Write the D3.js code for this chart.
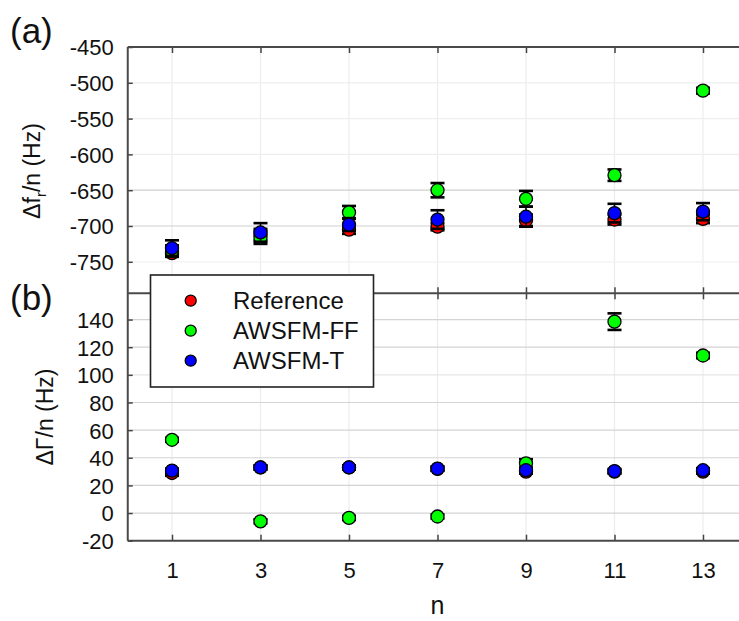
<!DOCTYPE html>
<html>
<head>
<meta charset="utf-8">
<script src="https://cdn.jsdelivr.net/npm/d3@7"></script>
<style>
  html, body { margin: 0; padding: 0; background: #fff; }
  svg { display: block; }
  text { font-family: "Liberation Sans", Arial, sans-serif; fill: #111; }
</style>
</head>
<body>
<svg id="chart" width="739" height="621"></svg>
<script>
// ---- data ----
const nValues = [1, 3, 5, 7, 9, 11, 13];
const seriesNames = ["Reference", "AWSFM-FF", "AWSFM-T"];

// panel (a): Δf_r/n (Hz)
const freqReference = [-738, -712, -705, -701, -692, -691, -690];
const freqReferenceErr = [5, 8, 6, 5, 8, 7, 6];
const freqFF = [-735, -716, -681, -650, -662, -629, -511];
const freqFFErr = [8, 9, 9, 10, 11, 8, 4];
const freqT = [-731, -709, -698, -691, -687, -682, -680];
const freqTErr = [11, 13, 9, 13, 14, 13, 12];

// panel (b): ΔΓ/n (Hz)
const gammaReference = [29, 33, 33, 32, 30, 30, 30];
const gammaReferenceErr = [2, 1.5, 1.5, 1.5, 1.5, 1.5, 1.5];
const gammaFF = [53, -6, -3.5, -2.5, 36, 138.5, 114];
const gammaFFErr = [1.5, 1.5, 1.5, 1.5, 3, 6, 2];
const gammaT = [30.7, 33, 33, 32.2, 31, 30.4, 31];
const gammaTErr = [1.5, 1.5, 1.5, 1.5, 1.5, 1.5, 1.5];

const xTicks = [1, 3, 5, 7, 9, 11, 13];
const yTicksTop = [-450, -500, -550, -600, -650, -700, -750];
const yTicksBottom = [-20, 0, 20, 40, 60, 80, 100, 120, 140];

// ---- layout ----
const svg = d3.select("#chart");
const W = 739;
const colors = ["#ff0000", "#00ff00", "#0000ff"];

const x = d3.scaleLinear().domain([0, 14]).range([127.75, 747.25]);
const yTop = d3.scaleLinear().domain([-450, -794]).range([47, 293.3]);
const yBot = d3.scaleLinear().domain([-20, 159]).range([540.7, 293.3]);

const left = x(0);
const panelTopY = yTop(-450), midY = yTop(-794), botY = yBot(-20);
const fmt = d => String(d);

// vertical grid lines
[[panelTopY, midY], [midY, botY]].forEach(([a, b]) => {
  svg.append("g").selectAll("line").data(xTicks).join("line")
    .attr("x1", d => x(d)).attr("x2", d => x(d))
    .attr("y1", a).attr("y2", b)
    .attr("stroke", "#ececec").attr("stroke-width", 1.2);
});

// horizontal grids
svg.append("g").selectAll("line").data(yTicksTop.filter(d => d !== -450)).join("line")
  .attr("x1", left).attr("x2", W)
  .attr("y1", d => yTop(d)).attr("y2", d => yTop(d))
  .attr("stroke", d => d > -625 ? "#eeeeee" : (d < -725 ? "#f2f2f2" : "#cfcfcf"))
  .attr("stroke-width", 1.2);
svg.append("g").selectAll("line").data(yTicksBottom.filter(d => d !== -20)).join("line")
  .attr("x1", left).attr("x2", W)
  .attr("y1", d => yBot(d)).attr("y2", d => yBot(d))
  .attr("stroke", d => d === 100 ? "#e6e6e6" : "#d4d4d4")
  .attr("stroke-width", 1.2);

// axes (via d3 axes, styled)
function styleAxis(g) {
  g.select(".domain").remove();
  g.selectAll("line").attr("stroke", "#444").attr("stroke-width", 1.5);
  g.selectAll("text").style("font-size", "22px")
    .style("font-family", '"Liberation Sans", Arial, sans-serif').attr("fill", "#111");
}

// left axis top
svg.append("g").attr("transform", `translate(${left},0)`)
  .call(d3.axisLeft(yTop).tickValues(yTicksTop).tickSize(-5).tickPadding(14).tickFormat(fmt))
  .call(styleAxis)
  .call(g => g.selectAll("text").attr("dy", "0.36em"));
// left axis bottom
svg.append("g").attr("transform", `translate(${left},0)`)
  .call(d3.axisLeft(yBot).tickValues(yTicksBottom).tickSize(-5).tickPadding(14).tickFormat(fmt))
  .call(styleAxis)
  .call(g => g.selectAll("text").attr("dy", "0.36em"));

// top border ticks (inward)
svg.append("g").attr("transform", `translate(0,${panelTopY})`)
  .call(d3.axisBottom(x).tickValues(xTicks).tickSize(6).tickFormat(""))
  .call(styleAxis);
// middle boundary ticks (both directions)
svg.append("g").attr("transform", `translate(0,${midY - 6})`)
  .call(d3.axisBottom(x).tickValues(xTicks).tickSize(12).tickFormat(""))
  .call(styleAxis);
// bottom axis
svg.append("g").attr("transform", `translate(0,${botY})`)
  .call(d3.axisBottom(x).tickValues(xTicks).tickSize(-6).tickPadding(22).tickFormat(fmt))
  .call(styleAxis)
  .call(g => g.selectAll("text").attr("dy", "0.71em"));

// frame lines
const frame = svg.append("g").attr("stroke", "#4a4a4a").attr("stroke-width", 2);
frame.append("line").attr("x1", left).attr("x2", W).attr("y1", panelTopY).attr("y2", panelTopY);
frame.append("line").attr("x1", left).attr("x2", W).attr("y1", midY).attr("y2", midY);
frame.append("line").attr("x1", left).attr("x2", W).attr("y1", botY).attr("y2", botY);
frame.append("line").attr("x1", left).attr("x2", left).attr("y1", panelTopY).attr("y2", botY);

// data series
function drawSeries(yScale, vals, errs, color) {
  const g = svg.append("g");
  const data = nValues.map((n, i) => ({ n, v: vals[i], e: errs[i] }));
  const cap = 7;
  g.selectAll("line.v").data(data).join("line").attr("class", "v")
    .attr("x1", d => x(d.n)).attr("x2", d => x(d.n))
    .attr("y1", d => yScale(d.v - d.e)).attr("y2", d => yScale(d.v + d.e))
    .attr("stroke", "#000").attr("stroke-width", 1.6);
  ["lo", "hi"].forEach(k => {
    g.selectAll("line." + k).data(data).join("line").attr("class", k)
      .attr("x1", d => x(d.n) - cap).attr("x2", d => x(d.n) + cap)
      .attr("y1", d => yScale(k === "lo" ? d.v - d.e : d.v + d.e))
      .attr("y2", d => yScale(k === "lo" ? d.v - d.e : d.v + d.e))
      .attr("stroke", "#000").attr("stroke-width", 2.6);
  });
  g.selectAll("circle").data(data).join("circle")
    .attr("cx", d => x(d.n)).attr("cy", d => yScale(d.v)).attr("r", 6.5)
    .attr("fill", color).attr("stroke", "#000").attr("stroke-width", 1.3);
}

drawSeries(yTop, freqReference, freqReferenceErr, colors[0]);
drawSeries(yTop, freqFF, freqFFErr, colors[1]);
drawSeries(yTop, freqT, freqTErr, colors[2]);
drawSeries(yBot, gammaReference, gammaReferenceErr, colors[0]);
drawSeries(yBot, gammaFF, gammaFFErr, colors[1]);
drawSeries(yBot, gammaT, gammaTErr, colors[2]);

// axis titles
const tA = svg.append("text")
  .attr("transform", "translate(40,171) rotate(-90)")
  .attr("text-anchor", "middle").style("font-size", "23px");
tA.append("tspan").text("Δf");
tA.append("tspan").text("r").style("font-size", "15px").attr("dy", 6);
tA.append("tspan").text("/n (Hz)").attr("dy", -6);

svg.append("text")
  .attr("transform", "translate(53,417) rotate(-90)")
  .attr("text-anchor", "middle").style("font-size", "23px")
  .text("ΔΓ/n (Hz)");

svg.append("text").attr("x", x(7)).attr("y", 614)
  .attr("text-anchor", "middle").style("font-size", "25px").text("n");

// panel labels
svg.append("text").attr("x", 10).attr("y", 43).style("font-size", "35px").text("(a)");
svg.append("text").attr("x", 10).attr("y", 310).style("font-size", "35px").text("(b)");

// legend
const lg = svg.append("g");
lg.append("rect").attr("x", 150.5).attr("y", 275).attr("width", 223).attr("height", 112)
  .attr("fill", "#fff").attr("stroke", "#222").attr("stroke-width", 1.6);
seriesNames.forEach((name, i) => {
  const cy = 300.7 + i * 30;
  lg.append("circle").attr("cx", 190.7).attr("cy", cy).attr("r", 5.5)
    .attr("fill", colors[i]).attr("stroke", "#000").attr("stroke-width", 1.3);
  lg.append("text").attr("x", 233).attr("y", cy).attr("dy", "0.36em")
    .style("font-size", "24px").text(name);
});
</script>
</body>
</html>
